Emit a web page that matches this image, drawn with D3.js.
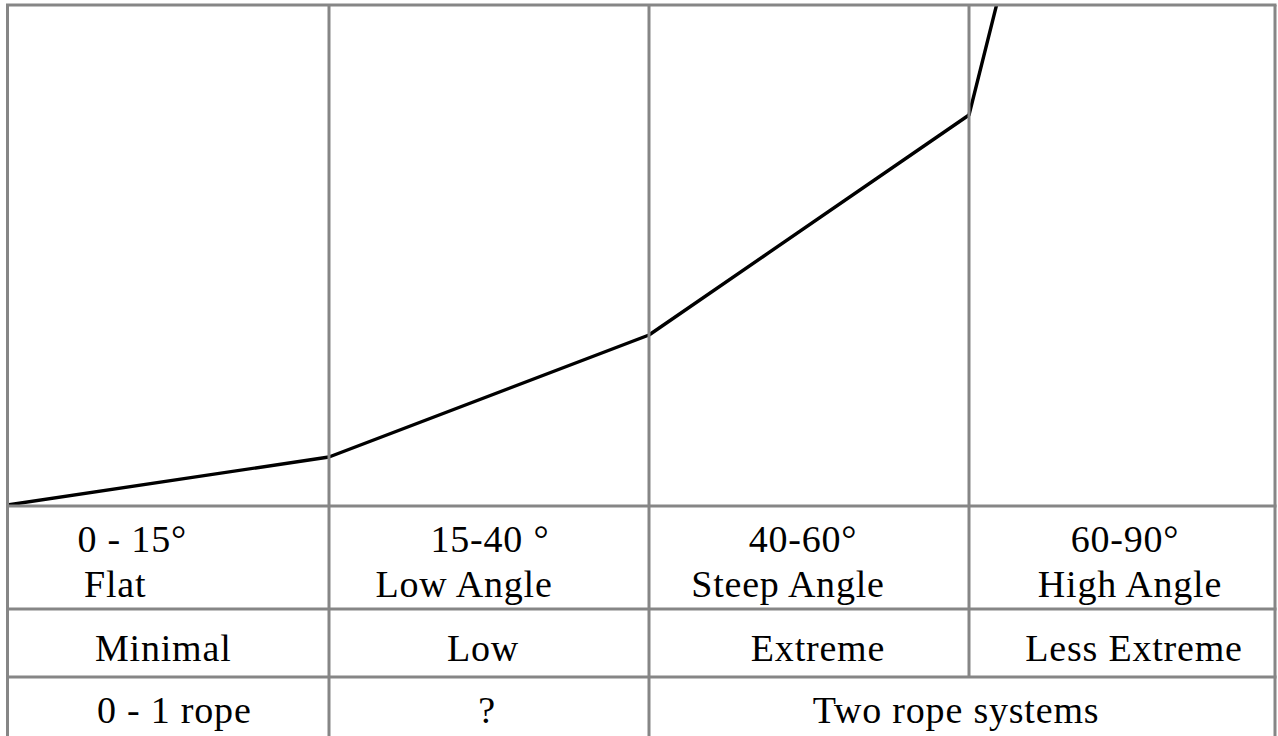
<!DOCTYPE html>
<html>
<head>
<meta charset="utf-8">
<script src="https://cdn.jsdelivr.net/npm/d3@7"></script>
<style>
  html, body { margin: 0; padding: 0; background: #fff; }
  svg { display: block; }
</style>
</head>
<body>
<svg id="chart" width="1278" height="736"></svg>
<script>
// ---- data ----
const zoneBounds = [0, 15, 40, 60, 90];                 // degrees: column boundaries
const angleRanges = ["0 - 15°", "15-40 °", "40-60°", "60-90°"];
const zoneNames = ["Flat", "Low Angle", "Steep Angle", "High Angle"];
const severity = ["Minimal", "Low", "Extreme", "Less Extreme"];
const ropeLabels = ["0 - 1 rope", "?", "Two rope systems"];
const ropeSpans = [[0, 15], [15, 40], [40, 90]];
const curveAngle = [0, 15, 40, 60, 62.7];
const curveValue = [0, 9.6, 34, 78, 100];

// ---- layout ----
const svg = d3.select("#chart");
const x = d3.scaleLinear().domain(zoneBounds).range([7.5, 329, 649, 969, 1275]);
const y = d3.scaleLinear().domain([0, 100]).range([505, 5]);
const rows = { top: 5, r1: 506, r2: 609, r3: 677, bottom: 740 };
const gridColor = "#868686", gw = 3;
const font = "'Liberation Serif', 'Times New Roman', serif";
const fs = 38;

// curve (clipped to plot area)
svg.append("clipPath").attr("id", "plotClip")
  .append("rect").attr("x", x(0)).attr("y", rows.top).attr("width", x(90) - x(0)).attr("height", rows.r1 - rows.top);

const line = d3.line().x(d => x(d[0])).y(d => y(d[1]));
svg.append("path")
  .datum(curveAngle.map((a, i) => [a, curveValue[i]]))
  .attr("clip-path", "url(#plotClip)")
  .attr("d", line)
  .attr("fill", "none")
  .attr("stroke", "#000")
  .attr("stroke-width", 3.4)
  .attr("stroke-linejoin", "round");

// grid lines
const g = svg.append("g").attr("stroke", gridColor).attr("stroke-width", gw).attr("fill", "none");
[rows.top, rows.r1, rows.r2, rows.r3].forEach(yy => {
  g.append("line").attr("x1", x(0) - 1.5).attr("x2", x(90) + 1.5).attr("y1", yy).attr("y2", yy);
});
zoneBounds.forEach(b => {
  const y2 = (b === 60) ? rows.r3 : rows.bottom;
  g.append("line").attr("x1", x(b)).attr("x2", x(b)).attr("y1", rows.top).attr("y2", y2);
});

// text
const t = svg.append("g").attr("font-family", font).attr("font-size", fs)
  .attr("letter-spacing", 0.8).attr("fill", "#000").attr("text-anchor", "middle");
const colCenter = i => (x(zoneBounds[i]) + x(zoneBounds[i + 1])) / 2;
const angleDx = [-36, 1, -6, 3];
const nameDx = [-53, -25, -21, 8];
const sevDx = [-5, -6, 9, 12];
const ropeDx = [6, -2, -6];

angleRanges.forEach((s, i) => {
  t.append("text").attr("x", colCenter(i) + angleDx[i]).attr("y", 552).text(s);
});
zoneNames.forEach((s, i) => {
  t.append("text").attr("x", colCenter(i) + nameDx[i]).attr("y", 597).text(s);
});
severity.forEach((s, i) => {
  t.append("text").attr("x", colCenter(i) + sevDx[i]).attr("y", 661).text(s);
});
ropeLabels.forEach((s, i) => {
  const cx = (x(ropeSpans[i][0]) + x(ropeSpans[i][1])) / 2;
  t.append("text").attr("x", cx + ropeDx[i]).attr("y", 723).text(s);
});
</script>
</body>
</html>
